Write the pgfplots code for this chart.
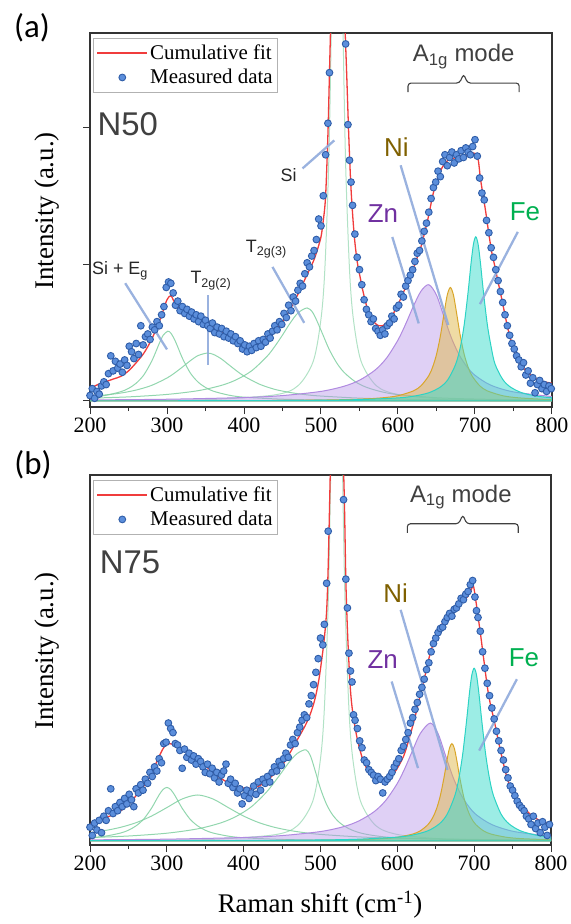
\documentclass[border=0pt]{standalone}
\usepackage{fontspec}
\setmainfont{Liberation Serif}
\setsansfont{Liberation Sans}
\newfontfamily\calib{Carlito}
\usepackage{pgfplots}
\pgfplotsset{compat=1.18}

\definecolor{fitred}{HTML}{F03C3C}
\definecolor{dotfill}{HTML}{5B8EDB}
\definecolor{dotedge}{HTML}{2F5DA8}
\definecolor{mint}{HTML}{7FCFA0}
\definecolor{znedge}{HTML}{B08AE0}
\definecolor{znfill}{HTML}{B896E8}
\definecolor{niedge}{HTML}{D9A62A}
\definecolor{nifill}{HTML}{E0B84A}
\definecolor{feedge}{HTML}{2CD3C4}
\definecolor{fefill}{HTML}{3ADBCB}
\definecolor{annotcol}{HTML}{8FAADC}
\definecolor{nitext}{HTML}{7F6000}
\definecolor{zntext}{HTML}{7030A0}
\definecolor{fetext}{HTML}{00B050}
\definecolor{graytext}{HTML}{404040}

\tikzset{
  annline/.style={draw=annotcol, line width=2.3bp, opacity=0.9},
  mybrace/.style={draw=graytext, line width=1.1bp, rounded corners=3bp},
}

\pgfplotsset{
  panel/.style={
    scale only axis, xmin=200, xmax=800,
    axis line style={line width=1.1bp, black!80},
    xtick={200,300,...,800}, minor x tick num=1,
    tick align=outside, xtick pos=lower, ytick pos=left,
    major tick length=7bp, minor tick length=4bp,
    every tick/.style={line width=1bp, black!80},
    ticklabel style={font=\fontsize{22}{24}\selectfont},
    /pgf/number format/assume math mode=true,
    /pgf/number format/1000 sep={},
    legend cell align=left,
    legend style={draw=black!30, line width=0.8bp, fill=white,
      font=\fontsize{21}{23}\selectfont, at={(0.0065,0.987)}, anchor=north west,
      inner xsep=3bp, inner ysep=5bp, row sep=4bp},
  },
  green/.style={mint, line width=1bp, opacity=0.85, smooth, forget plot},
  fitline/.style={fitred, line width=1.3bp, smooth,
    legend image code/.code={\draw[draw=fitred, line width=1.8bp] (0bp,0bp) -- (50bp,0bp);}},
  dots/.style={only marks, mark=*, mark size=3.4bp,
    mark options={fill=dotfill, draw=dotedge, line width=0.9bp},
    legend image code/.code={\draw[mark repeat=2,mark phase=2,##1] plot coordinates {(0bp,0bp) (25bp,0bp) (50bp,0bp)};}},
}

\begin{document}
\begin{tikzpicture}
\useasboundingbox (0,0) rectangle (571bp,-924bp);

% ================= Panel (a) =================
\begin{axis}[panel, at={(90bp,-407bp)}, anchor=south west,
  width=462bp, height=374bp, ymin=-0.044, ymax=2.69,
  ytick={0,1,2}, yticklabels={}]

\addplot[green] coordinates {(200,0.027)(220,0.041)(240,0.068)(250,0.092)(260,0.130)(270,0.191)(280,0.289)(285,0.353)(290,0.421)(295,0.480)(301,0.51)(305,0.496)(310,0.447)(315,0.381)(320,0.313)(330,0.207)(340,0.140)(350,0.099)(360,0.072)(380,0.043)(400,0.028)(450,0.013)(500,0.0073)(600,0.0033)(700,0.0019)(800,0.0012)};
\addplot[green] coordinates {(200,0.034)(220,0.044)(240,0.058)(260,0.080)(280,0.114)(300,0.168)(310,0.205)(320,0.248)(330,0.293)(340,0.331)(352,0.35)(360,0.341)(370,0.310)(380,0.266)(390,0.222)(400,0.182)(420,0.123)(440,0.085)(460,0.062)(480,0.046)(500,0.036)(550,0.021)(600,0.0137)(700,0.0071)(800,0.0043)};
\addplot[green] coordinates {(200,0.0207)(250,0.030)(300,0.048)(340,0.075)(370,0.113)(390,0.155)(410,0.221)(430,0.327)(440,0.399)(450,0.482)(460,0.570)(470,0.643)(482,0.68)(490,0.640)(500,0.517)(510,0.385)(520,0.282)(530,0.209)(545,0.139)(560,0.098)(580,0.0655)(600,0.0466)(650,0.0238)(700,0.0143)(750,0.0096)(800,0.0068)};
\addplot[green, opacity=0.6] coordinates {(200,0.0029)(300,0.006)(360,0.0113)(440,0.0445)(470,0.111)(490,0.291)(500,0.60)(505,0.964)(510,1.73)(513,2.60)(515,3.46)(518,5.07)(521,6.0)(524,5.07)(527,3.46)(529,2.60)(532,1.73)(537,0.964)(542,0.60)(552,0.291)(572,0.111)(600,0.047)(650,0.0176)(700,0.0092)(800,0.0038)};

\addplot[draw=znedge, line width=1bp, fill=znfill, fill opacity=0.45, smooth, forget plot] coordinates {(200,0.0077)(300,0.0128)(400,0.0252)(450,0.0396)(500,0.0702)(530,0.108)(550,0.152)(570,0.225)(585,0.313)(600,0.446)(610,0.563)(620,0.693)(630,0.804)(640,0.85)(650,0.774)(660,0.611)(670,0.452)(680,0.332)(690,0.247)(700,0.188)(720,0.117)(750,0.0664)(800,0.0327)} \closedcycle;
\addplot[draw=niedge, line width=1bp, fill=nifill, fill opacity=0.5, smooth, forget plot] coordinates {(200,0.0009)(400,0.0026)(500,0.0066)(550,0.0132)(580,0.0234)(600,0.0385)(620,0.0738)(630,0.112)(640,0.185)(645,0.248)(650,0.340)(655,0.474)(660,0.646)(664,0.775)(668,0.83)(672,0.775)(676,0.646)(681,0.474)(686,0.340)(691,0.248)(696,0.185)(706,0.112)(716,0.0738)(736,0.0385)(756,0.0234)(786,0.0132)(800,0.0106)} \closedcycle;
\addplot[draw=feedge, line width=1bp, fill=fefill, fill opacity=0.5, smooth, forget plot] coordinates {(200,0.0009)(400,0.0026)(500,0.0058)(550,0.0102)(600,0.0226)(620,0.0348)(640,0.060)(655,0.102)(665,0.158)(675,0.270)(681,0.395)(686,0.559)(691,0.795)(695,1.014)(698,1.147)(701,1.20)(704,1.147)(707,1.014)(711,0.795)(716,0.559)(721,0.395)(726,0.270)(736,0.158)(746,0.102)(761,0.060)(781,0.0348)(800,0.0235)} \closedcycle;

\addplot[fitline] coordinates {(200,0.09)(210,0.12)(220,0.14)(230,0.16)(240,0.18)(250,0.22)(260,0.28)(270,0.35)(280,0.45)(290,0.58)(295,0.66)(300,0.74)(305,0.77)(310,0.72)(320,0.66)(330,0.63)(340,0.60)(350,0.57)(360,0.54)(370,0.51)(380,0.48)(390,0.45)(400,0.42)(410,0.41)(420,0.42)(430,0.46)(440,0.51)(450,0.58)(460,0.67)(470,0.78)(480,0.90)(490,1.02)(495,1.10)(500,1.20)(503,1.32)(506,1.50)(509,1.95)(511,2.40)(513,2.85)(516,3.5)(521,4.0)(526,3.5)(530,2.9)(533,2.45)(536,1.95)(539,1.55)(543,1.22)(547,1.02)(551,0.90)(555,0.79)(560,0.68)(565,0.61)(570,0.57)(575,0.55)(580,0.55)(585,0.57)(590,0.60)(595,0.65)(600,0.70)(605,0.77)(610,0.83)(615,0.90)(620,0.97)(625,1.05)(630,1.13)(635,1.24)(640,1.36)(645,1.50)(650,1.60)(655,1.68)(660,1.73)(665,1.76)(670,1.77)(675,1.78)(680,1.79)(685,1.79)(690,1.80)(695,1.81)(700,1.81)(704,1.77)(707,1.63)(710,1.52)(714,1.38)(718,1.22)(722,1.08)(726,0.98)(730,0.87)(735,0.74)(740,0.60)(744,0.50)(750,0.38)(756,0.30)(763,0.24)(770,0.20)(780,0.16)(790,0.14)(800,0.13)};
\addlegendentry{Cumulative fit}

\addplot[dots] coordinates {(200,0.04)(203,0.09)(206,0.02)(209,0.07)(212,0.05)(215,0.11)(218,0.14)(221,0.12)(224,0.20)(227,0.33)(230,0.22)(233,0.29)(236,0.24)(239,0.27)(242,0.21)(245,0.30)(248,0.26)(251,0.40)(254,0.36)(257,0.31)(260,0.42)(263,0.34)(266,0.55)(269,0.41)(272,0.47)(275,0.49)(278,0.45)(281,0.54)(284,0.52)(287,0.58)(290,0.55)(293,0.63)(296,0.69)(299,0.83)(302,0.87)(305,0.86)(308,0.79)(311,0.70)(314,0.73)(317,0.66)(320,0.69)(323,0.64)(326,0.67)(329,0.62)(332,0.65)(335,0.60)(338,0.63)(341,0.58)(344,0.62)(347,0.56)(350,0.59)(353,0.55)(356,0.53)(359,0.57)(362,0.50)(365,0.54)(368,0.49)(371,0.53)(374,0.47)(377,0.51)(380,0.46)(383,0.49)(386,0.44)(389,0.47)(392,0.42)(395,0.44)(398,0.38)(401,0.41)(404,0.36)(407,0.40)(410,0.37)(413,0.42)(416,0.39)(419,0.44)(422,0.40)(425,0.45)(428,0.43)(431,0.49)(434,0.46)(437,0.51)(440,0.55)(443,0.52)(446,0.58)(449,0.56)(452,0.64)(455,0.61)(458,0.70)(461,0.66)(464,0.76)(467,0.73)(470,0.81)(473,0.86)(476,0.84)(479,0.93)(482,1.01)(485,0.98)(488,1.06)(491,1.10)(494,1.18)(497,1.33)(500,1.28)(503,1.50)(506,1.80)(509,2.03)(511,2.40)(514,3.3)(517,3.9)(520,4.2)(523,4.1)(526,3.6)(529,3.0)(532,2.61)(535,2.02)(537,1.76)(539,1.60)(541,1.43)(544,1.22)(547,1.05)(550,0.96)(553,0.85)(556,0.74)(559,0.67)(562,0.63)(565,0.58)(568,0.60)(571,0.53)(574,0.51)(577,0.48)(580,0.52)(583,0.49)(586,0.55)(589,0.57)(592,0.62)(595,0.60)(598,0.68)(601,0.70)(604,0.78)(607,0.76)(610,0.84)(613,0.88)(616,0.92)(619,0.96)(622,1.02)(625,1.08)(628,1.10)(631,1.17)(634,1.24)(637,1.30)(640,1.38)(643,1.48)(646,1.56)(649,1.60)(652,1.68)(655,1.64)(658,1.75)(661,1.80)(664,1.72)(667,1.78)(670,1.82)(673,1.74)(676,1.80)(679,1.77)(682,1.83)(685,1.78)(688,1.85)(691,1.82)(694,1.80)(697,1.86)(700,1.91)(703,1.79)(706,1.63)(709,1.52)(712,1.47)(715,1.32)(718,1.23)(721,1.12)(724,1.05)(727,0.96)(730,0.88)(733,0.80)(736,0.72)(739,0.63)(742,0.55)(745,0.48)(748,0.42)(751,0.38)(754,0.33)(757,0.30)(760,0.25)(763,0.28)(766,0.19)(769,0.22)(772,0.13)(775,0.17)(778,0.06)(781,0.12)(784,0.15)(787,0.09)(790,0.12)(793,0.07)(796,0.11)(799,0.09)};
\addlegendentry{Measured data}

% annotations (a)
\draw[annline] (axis cs:245.7,0.861) -- (axis cs:300,0.377);
\draw[annline] (axis cs:353.5,0.774) -- (axis cs:353.5,0.263);
\draw[annline] (axis cs:437,0.98) -- (axis cs:478.2,0.571);
\draw[annline] (axis cs:476,1.70) -- (axis cs:517.3,1.905);
\draw[annline] (axis cs:603.4,1.723) -- (axis cs:665.3,0.555);
\draw[annline] (axis cs:592.6,1.199) -- (axis cs:626.9,0.567);
\draw[annline] (axis cs:755.6,1.236) -- (axis cs:706.4,0.708);

\node[font=\sffamily\fontsize{18}{20}\selectfont, text=black!85] at (axis cs:239,0.95) {Si + E\textsubscript{g}};
\node[font=\sffamily\fontsize{18}{20}\selectfont, text=black!85] at (axis cs:357,0.88) {T\textsubscript{2g(2)}};
\node[font=\sffamily\fontsize{18}{20}\selectfont, text=black!85] at (axis cs:429,1.11) {T\textsubscript{2g(3)}};
\node[font=\sffamily\fontsize{18}{20}\selectfont, text=black!85] at (axis cs:458,1.65) {Si};
\node[font=\sffamily\fontsize{26}{28}\selectfont, text=nitext] at (axis cs:597.8,1.854) {Ni};
\node[font=\sffamily\fontsize{26}{28}\selectfont, text=zntext] at (axis cs:580.5,1.372) {Zn};
\node[font=\sffamily\fontsize{26}{28}\selectfont, text=fetext] at (axis cs:764.8,1.38) {Fe};
\node[font=\sffamily\fontsize{24}{26}\selectfont, text=graytext] at (axis cs:685.2,2.52) {A\textsubscript{1g} mode};
\node[font=\sffamily\fontsize{33}{36}\selectfont, text=graytext] at (axis cs:249,2.02) {N50};
\draw[mybrace] (axis cs:613,2.258) -- (axis cs:613,2.324) -- (axis cs:679.9,2.324) -- (axis cs:685.2,2.390) -- (axis cs:690.4,2.324) -- (axis cs:757.4,2.324) -- (axis cs:757.4,2.258);
\end{axis}

% ================= Panel (b) =================
\begin{axis}[panel, at={(90bp,-845bp)}, anchor=south west,
  width=461bp, height=370bp, ymin=-0.03, ymax=2.67,
  ytick=\empty]

\addplot[green] coordinates {(200,0.0229)(220,0.0347)(240,0.0577)(250,0.078)(260,0.110)(270,0.160)(280,0.238)(285,0.287)(290,0.336)(295,0.375)(300,0.39)(305,0.375)(310,0.336)(315,0.287)(320,0.238)(330,0.160)(340,0.110)(350,0.078)(360,0.0577)(380,0.0347)(400,0.0229)(450,0.0105)(500,0.006)(600,0.0027)(700,0.0015)(800,0.001)};
\addplot[green] coordinates {(200,0.0594)(220,0.076)(240,0.0994)(260,0.133)(280,0.181)(300,0.243)(320,0.306)(340,0.335)(360,0.306)(380,0.243)(400,0.181)(420,0.133)(440,0.0994)(460,0.076)(480,0.0594)(500,0.0474)(550,0.0293)(600,0.0197)(700,0.0106)(800,0.0066)};
\addplot[green] coordinates {(200,0.0245)(250,0.0357)(300,0.0562)(340,0.0878)(370,0.131)(390,0.178)(410,0.249)(430,0.358)(445,0.466)(460,0.580)(470,0.639)(481,0.665)(487,0.619)(493,0.513)(500,0.381)(508,0.265)(516,0.188)(526,0.128)(540,0.0812)(560,0.0478)(600,0.0220)(700,0.0066)(800,0.0032)};
\addplot[green, opacity=0.6] coordinates {(200,0.0029)(300,0.006)(360,0.0113)(440,0.0445)(470,0.111)(490,0.291)(500,0.60)(505,0.964)(510,1.73)(513,2.60)(515,3.46)(518,5.07)(521,6.0)(524,5.07)(527,3.46)(529,2.60)(532,1.73)(537,0.964)(542,0.60)(552,0.291)(572,0.111)(600,0.047)(650,0.0176)(700,0.0092)(800,0.0038)};

\addplot[draw=znedge, line width=1bp, fill=znfill, fill opacity=0.45, smooth, forget plot] coordinates {(200,0.0077)(300,0.0127)(400,0.0249)(450,0.0389)(500,0.0683)(530,0.104)(550,0.146)(570,0.214)(585,0.296)(600,0.420)(610,0.532)(620,0.662)(630,0.785)(643,0.86)(653,0.783)(663,0.618)(673,0.458)(683,0.336)(693,0.250)(703,0.190)(723,0.119)(753,0.0672)(800,0.0343)} \closedcycle;
\addplot[draw=niedge, line width=1bp, fill=nifill, fill opacity=0.5, smooth, forget plot] coordinates {(200,0.0006)(400,0.0019)(500,0.0047)(550,0.0094)(580,0.0164)(600,0.0266)(620,0.0498)(630,0.0741)(640,0.120)(646,0.169)(651,0.234)(656,0.331)(661,0.470)(665,0.600)(668,0.679)(671,0.71)(674,0.679)(677,0.600)(681,0.470)(686,0.331)(691,0.234)(696,0.169)(702,0.120)(712,0.0741)(722,0.0498)(742,0.0266)(762,0.0164)(800,0.0083)} \closedcycle;
\addplot[draw=feedge, line width=1bp, fill=fefill, fill opacity=0.5, smooth, forget plot] coordinates {(200,0.0011)(400,0.0031)(500,0.0070)(550,0.0125)(600,0.0277)(620,0.0428)(640,0.0741)(655,0.126)(665,0.196)(675,0.333)(680,0.454)(685,0.630)(690,0.872)(694,1.086)(697,1.212)(700,1.26)(703,1.212)(706,1.086)(710,0.872)(715,0.630)(720,0.454)(725,0.333)(735,0.196)(745,0.126)(760,0.0741)(780,0.0428)(800,0.0277)} \closedcycle;

\addplot[fitline] coordinates {(200,0.12)(210,0.15)(220,0.17)(230,0.19)(240,0.22)(250,0.27)(260,0.33)(270,0.40)(280,0.49)(287,0.58)(292,0.64)(297,0.69)(303,0.71)(310,0.70)(317,0.68)(325,0.65)(335,0.61)(345,0.57)(356,0.52)(367,0.47)(378,0.43)(390,0.40)(400,0.385)(410,0.385)(420,0.40)(430,0.44)(440,0.49)(450,0.55)(460,0.64)(470,0.74)(480,0.84)(487,0.93)(493,1.04)(498,1.18)(502,1.34)(505,1.48)(508,1.68)(510,2.0)(512,2.5)(514,3.0)(518,3.8)(521,4.0)(525,3.6)(528,3.1)(531,2.5)(533,1.9)(535,1.55)(537,1.30)(539,1.10)(541,0.98)(544,0.86)(548,0.74)(552,0.65)(556,0.58)(561,0.52)(568,0.47)(578,0.445)(587,0.46)(595,0.49)(602,0.55)(609,0.63)(615,0.74)(622,0.88)(628,1.02)(635,1.18)(641,1.33)(648,1.46)(656,1.56)(665,1.64)(674,1.69)(683,1.74)(691,1.78)(696,1.83)(699,1.86)(702,1.76)(705,1.64)(708,1.52)(711,1.39)(717,1.13)(721,1.00)(726,0.88)(730,0.77)(735,0.64)(740,0.52)(744,0.44)(750,0.36)(757,0.30)(765,0.24)(774,0.19)(785,0.15)(800,0.12)};
\addlegendentry{Cumulative fit}

\addplot[dots] coordinates {(200,0.10)(203,0.04)(206,0.13)(209,0.08)(212,0.15)(215,0.06)(218,0.18)(221,0.15)(224,0.22)(227,0.38)(230,0.20)(233,0.25)(236,0.22)(239,0.28)(242,0.25)(245,0.31)(248,0.27)(251,0.34)(254,0.30)(257,0.25)(260,0.38)(263,0.35)(266,0.41)(269,0.37)(272,0.45)(275,0.42)(278,0.50)(281,0.47)(284,0.54)(287,0.51)(290,0.60)(293,0.57)(296,0.71)(299,0.72)(302,0.86)(305,0.82)(308,0.79)(311,0.71)(314,0.70)(317,0.66)(320,0.53)(323,0.67)(326,0.61)(329,0.64)(332,0.59)(335,0.62)(338,0.56)(341,0.60)(344,0.58)(347,0.54)(350,0.50)(353,0.56)(356,0.49)(359,0.53)(362,0.46)(365,0.50)(368,0.43)(371,0.48)(374,0.51)(377,0.56)(380,0.42)(383,0.45)(386,0.39)(389,0.42)(392,0.35)(395,0.38)(398,0.27)(401,0.33)(404,0.37)(407,0.31)(410,0.35)(413,0.40)(416,0.34)(419,0.43)(422,0.37)(425,0.45)(428,0.42)(431,0.47)(434,0.43)(437,0.50)(440,0.54)(443,0.51)(446,0.58)(449,0.55)(452,0.60)(455,0.64)(458,0.61)(461,0.70)(464,0.74)(467,0.71)(470,0.79)(473,0.83)(476,0.88)(479,0.92)(482,0.90)(485,1.00)(488,1.06)(491,1.14)(494,1.23)(497,1.33)(500,1.48)(503,1.43)(505,1.58)(508,1.88)(510,2.26)(513,2.9)(516,3.5)(519,3.9)(522,4.0)(525,3.6)(528,3.1)(530,2.49)(533,1.91)(535,1.70)(537,1.37)(539,1.24)(541,1.16)(543,0.92)(545,0.88)(548,0.82)(551,0.73)(554,0.68)(557,0.59)(560,0.57)(563,0.52)(566,0.50)(569,0.48)(572,0.44)(575,0.47)(578,0.45)(581,0.35)(584,0.43)(587,0.45)(590,0.47)(593,0.50)(596,0.54)(599,0.57)(602,0.60)(605,0.66)(608,0.69)(611,0.74)(614,0.79)(617,0.86)(620,0.90)(623,0.96)(626,1.01)(629,1.07)(632,1.12)(635,1.18)(638,1.25)(641,1.30)(644,1.38)(647,1.44)(650,1.48)(653,1.52)(656,1.55)(659,1.56)(662,1.60)(665,1.63)(668,1.66)(671,1.64)(674,1.69)(677,1.70)(680,1.73)(683,1.77)(686,1.76)(689,1.80)(692,1.82)(695,1.87)(698,1.90)(701,1.78)(703,1.68)(705,1.63)(708,1.53)(711,1.38)(714,1.26)(717,1.15)(720,1.06)(723,0.97)(726,0.89)(729,0.80)(732,0.73)(735,0.66)(738,0.59)(741,0.52)(744,0.46)(747,0.40)(750,0.37)(753,0.33)(756,0.29)(759,0.26)(762,0.24)(765,0.22)(768,0.18)(771,0.16)(774,0.12)(777,0.18)(780,0.09)(783,0.13)(786,0.06)(789,0.14)(792,0.10)(795,0.04)(798,0.12)};
\addlegendentry{Measured data}

% annotations (b)
\draw[annline] (axis cs:604.3,1.686) -- (axis cs:665.2,0.518);
\draw[annline] (axis cs:592.6,1.163) -- (axis cs:626.9,0.531);
\draw[annline] (axis cs:755.6,1.18) -- (axis cs:706.5,0.659);

\node[font=\sffamily\fontsize{26}{28}\selectfont, text=nitext] at (axis cs:597.8,1.81) {Ni};
\node[font=\sffamily\fontsize{26}{28}\selectfont, text=zntext] at (axis cs:580.9,1.321) {Zn};
\node[font=\sffamily\fontsize{26}{28}\selectfont, text=fetext] at (axis cs:764.8,1.336) {Fe};
\node[font=\sffamily\fontsize{24}{26}\selectfont, text=graytext] at (axis cs:682.6,2.51) {A\textsubscript{1g} mode};
\node[font=\sffamily\fontsize{33}{36}\selectfont, text=graytext] at (axis cs:252,2.03) {N75};
\draw[mybrace] (axis cs:613,2.248) -- (axis cs:613,2.314) -- (axis cs:679.9,2.314) -- (axis cs:685.2,2.380) -- (axis cs:690.4,2.314) -- (axis cs:757.4,2.314) -- (axis cs:757.4,2.248);
\end{axis}

% outer labels
\node[font=\calib\fontsize{33}{36}\selectfont] at (32bp,-28bp) {(a)};
\node[font=\calib\fontsize{33}{36}\selectfont] at (33bp,-465bp) {(b)};
\node[rotate=90, font=\fontsize{27}{30}\selectfont] at (47bp,-211bp) {Intensity (a.u.)};
\node[rotate=90, font=\fontsize{27}{30}\selectfont] at (47bp,-651bp) {Intensity (a.u.)};
\node[font=\fontsize{27}{30}\selectfont] at (320bp,-905bp) {Raman shift (cm\textsuperscript{-1})};
\end{tikzpicture}
\end{document}
